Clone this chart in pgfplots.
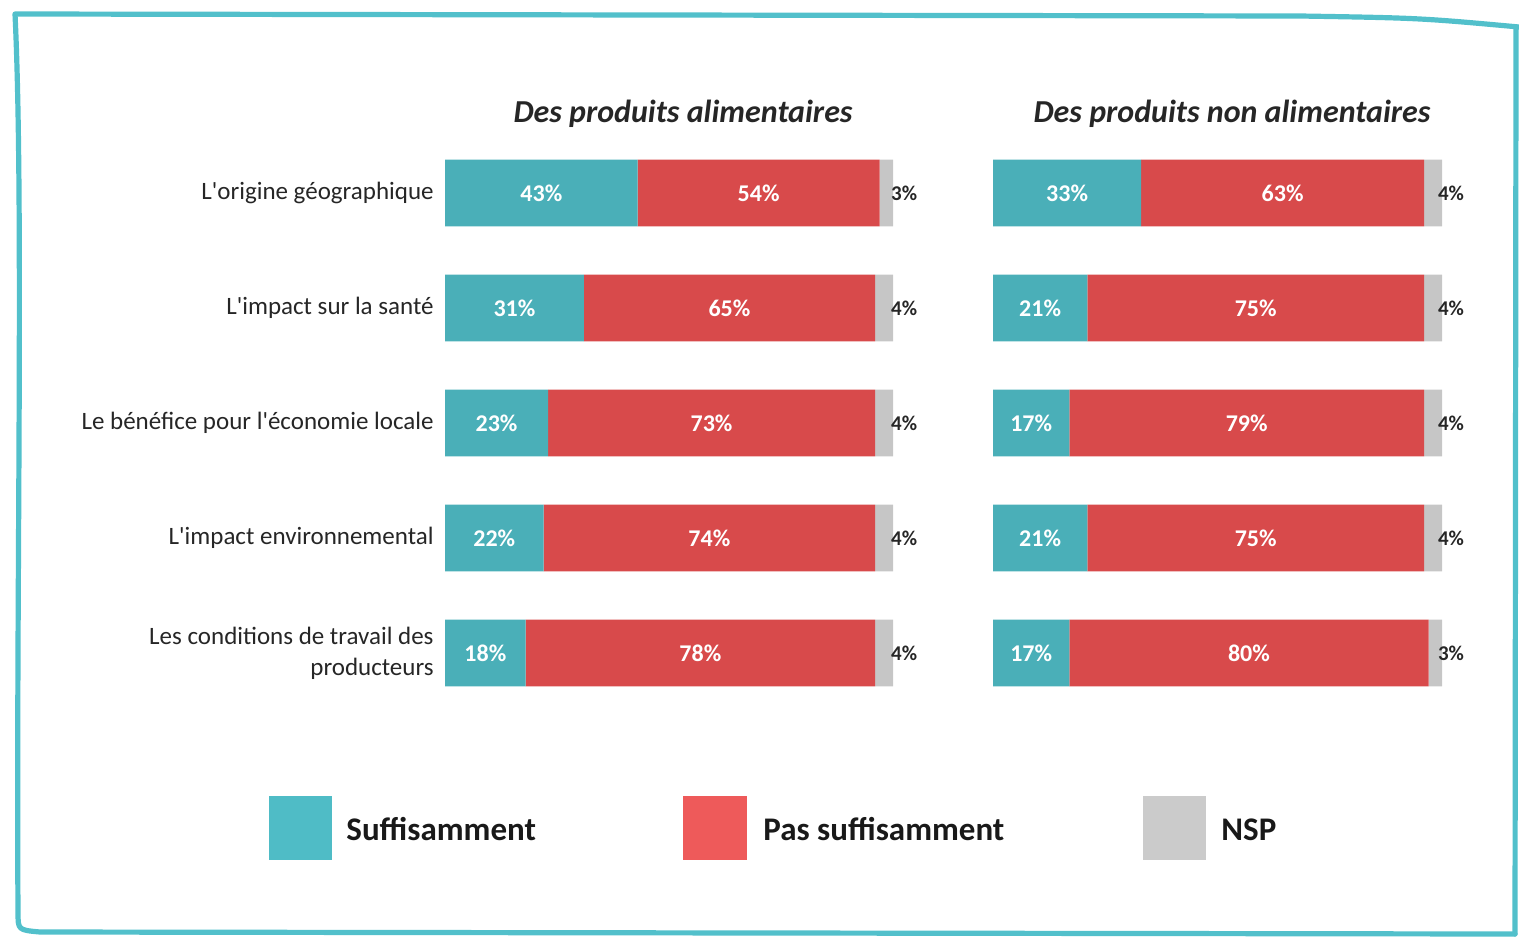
\documentclass[border=0pt]{standalone}
\usepackage{pgfplots}
\pgfplotsset{compat=1.18}
\usepackage{pgfplotstable}
\usepackage{fontspec}
\setmainfont{Carlito}
\definecolor{teal1}{HTML}{4AAFB8}
\definecolor{red1}{HTML}{D84A4B}
\definecolor{gray1}{HTML}{C6C6C6}
\definecolor{tealL}{HTML}{4FBCC6}
\definecolor{redL}{HTML}{EE5A5A}
\definecolor{grayL}{HTML}{CBCBCB}
\definecolor{frame}{HTML}{52C0CB}

\pgfplotstableread{
y a b c
1 43 54 3
2 31 65 4
3 23 73 4
4 22 74 4
5 18 78 4
}\leftdata
\pgfplotstableread{
y a b c
1 33 63 4
2 21 75 4
3 17 79 4
4 21 75 4
5 17 80 3
}\rightdata

\pgfplotsset{
 base/.style={scale only axis, height=287.5pt, xmin=0, xmax=100, ymin=0.5, ymax=5.5,
   y dir=reverse, anchor=north west, clip=false},
 barax/.style={base, xbar stacked, bar width=0.58, axis line style={draw=none},
   xtick=\empty, ytick=\empty, major tick length=0pt},
 lblax/.style={base, hide axis},
 seg/.style={draw=none, mark=none, point meta=explicit symbolic,
   nodes near coords={\pgfplotspointmeta\%},
   every node near coord/.append style={anchor=center, text=white, inner sep=0pt,
     font=\bfseries\fontsize{12}{14}\selectfont}},
 nsp/.style={draw=none, mark=none, point meta=explicit symbolic,
   nodes near coords={\pgfplotspointmeta\%},
   every node near coord/.append style={anchor=center, text=black!85, inner sep=0pt,
     font=\bfseries\fontsize{10.5}{12}\selectfont}},
}

\begin{document}
\begin{tikzpicture}
% ---------- left panel
\begin{axis}[barax, at={(222.5pt,-67.75pt)}, width=224pt,
  ytick={1,2,3,4,5},
  yticklabels={{L\textquotesingle origine géographique},{L\textquotesingle impact sur la santé},{Le bénéfice pour l\textquotesingle économie locale},{L\textquotesingle impact environnemental},{Les conditions de travail des\\producteurs}},
  yticklabel style={align=right, inner sep=0pt, xshift=-5.5pt, font=\fontsize{12.5}{15.5}\selectfont, text=black!85}]
\addplot[fill=teal1, draw=none] table[x=a, y=y] {\leftdata};
\addplot[fill=red1, draw=none] table[x=b, y=y] {\leftdata};
\addplot[fill=gray1, draw=none] table[x=c, y=y] {\leftdata};
\end{axis}
\begin{axis}[lblax, at={(222.5pt,-67.75pt)}, width=224pt]
\addplot[seg] table[x expr=\thisrow{a}/2, y=y, meta=a] {\leftdata};
\addplot[seg] table[x expr=\thisrow{a}+\thisrow{b}/2, y=y, meta=b] {\leftdata};
\addplot[nsp] table[x expr=102.5, y=y, meta=c] {\leftdata};
\end{axis}
% ---------- right panel
\begin{axis}[barax, at={(496.5pt,-67.75pt)}, width=224.5pt]
\addplot[fill=teal1, draw=none] table[x=a, y=y] {\rightdata};
\addplot[fill=red1, draw=none] table[x=b, y=y] {\rightdata};
\addplot[fill=gray1, draw=none] table[x=c, y=y] {\rightdata};
\end{axis}
\begin{axis}[lblax, at={(496.5pt,-67.75pt)}, width=224.5pt]
\addplot[seg] table[x expr=\thisrow{a}/2, y=y, meta=a] {\rightdata};
\addplot[seg] table[x expr=\thisrow{a}+\thisrow{b}/2, y=y, meta=b] {\rightdata};
\addplot[nsp] table[x expr=102.0, y=y, meta=c] {\rightdata};
\end{axis}
% ---------- decorations in pixel units
\begin{scope}[x=0.5pt, y=-0.5pt]
\path[use as bounding box] (0,0) rectangle (1519,937);
\draw[frame, line width=2.6pt, line cap=round, line join=round]
  (1519,27) .. controls (1420,18) .. (1300,16) -- (15,14)
  .. controls (24,200) and (16,600) .. (18,912) .. controls (18,930) .. (40,932) -- (1515,934);
\draw[frame, line width=2.6pt, line cap=round] (1515,934) -- (1516,28);
\node[anchor=base, inner sep=0pt, font=\bfseries\itshape\fontsize{16}{19}\selectfont, text=black!85] at (683,122) {Des produits alimentaires};
\node[anchor=base, inner sep=0pt, font=\bfseries\itshape\fontsize{16}{19}\selectfont, text=black!85] at (1232,122) {Des produits non alimentaires};
% legend
\fill[tealL] (269,796) rectangle (332,860);
\fill[redL] (683,796) rectangle (747,860);
\fill[grayL] (1143,796) rectangle (1206,860);
\begin{scope}[every node/.style={anchor=base west, inner sep=0pt, font=\bfseries\fontsize{16.5}{20}\selectfont, text=black!90}]
\node at (346,840) {Suffisamment};
\node at (763,840) {Pas suffisamment};
\node at (1221,840) {NSP};
\end{scope}
\end{scope}
\end{tikzpicture}
\end{document}
